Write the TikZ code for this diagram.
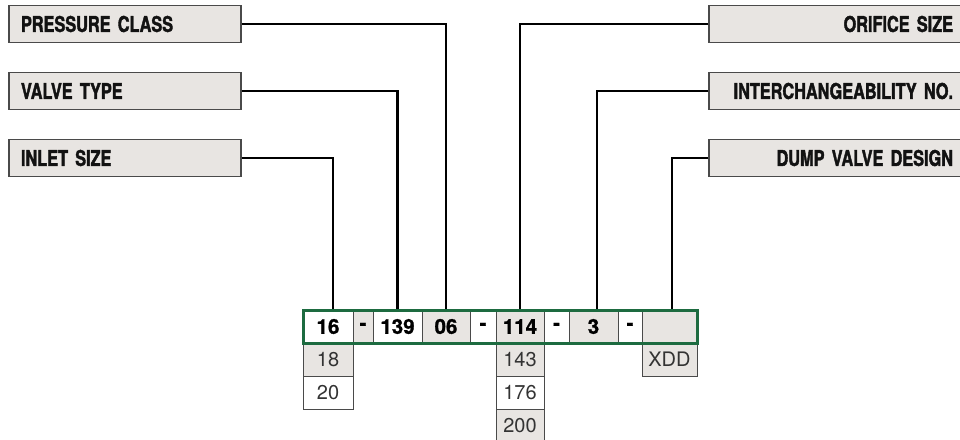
\documentclass[tikz,border=0pt]{standalone}
\usepackage{fontspec}
\setmainfont{TeX Gyre Heros}
\newfontfamily\condfont[FakeStretch=0.75, FakeBold=1.8]{TeX Gyre Heros}
\newfontfamily\heavyfont[FakeBold=1]{TeX Gyre Heros}
\usetikzlibrary{positioning}
\definecolor{cgreen}{HTML}{1D6B40}
\definecolor{cfill}{HTML}{E8E5E2}
\definecolor{cedge}{HTML}{4A4A4A}
\tikzset{
  tag/.style={draw=cedge, fill=cfill, line width=1.5pt, minimum height=37pt, inner ysep=0pt,
    font=\condfont\bfseries\fontsize{21.7}{22}\selectfont, text=black!93},
  lefttag/.style={tag, inner xsep=12pt, text width=208pt, align=left},
  righttag/.style={tag, inner xsep=9pt, text width=235pt, align=right},
  cell/.style={draw=cedge, line width=1pt, outer sep=0pt, inner sep=0pt, minimum height=33pt,
    font=\heavyfont\bfseries\fontsize{20.5}{21}\selectfont, text=black},
  opt/.style={cell, font=\normalfont\fontsize{20}{20}\selectfont, text=black!80},
  wire/.style={draw=black, line width=2.2pt},
}

\begin{document}
\begin{tikzpicture}[x=1pt, y=-1pt]
  \useasboundingbox (0,0) rectangle (960,439);
  % code row
  \node[cell, fill=white, minimum width=50pt] (c16) at (328,326.5) {16};
  \node[cell, fill=cfill, minimum width=20pt, right=0pt of c16] (d1) {-};
  \node[cell, fill=white, minimum width=49pt, right=0pt of d1] (c139) {139};
  \node[cell, fill=cfill, minimum width=48pt, right=0pt of c139] (c06) {06};
  \node[cell, fill=white, minimum width=26pt, right=0pt of c06] (d2) {-};
  \node[cell, fill=cfill, minimum width=48pt, right=0pt of d2] (c114) {114};
  \node[cell, fill=white, minimum width=25pt, right=0pt of c114] (d3) {-};
  \node[cell, fill=cfill, minimum width=49pt, right=0pt of d3] (c3) {3};
  \node[cell, fill=white, minimum width=24pt, right=0pt of c3] (d4) {-};
  \node[cell, fill=cfill, minimum width=55pt, right=0pt of d4] (cx) {};
  % options below the code
  \node[opt, fill=cfill, minimum width=50pt, below=0pt of c16] (o18) {18};
  \node[opt, fill=white, minimum width=50pt, below=0pt of o18] (o20) {20};
  \node[opt, fill=cfill, minimum width=48pt, below=0pt of c114] (o143) {143};
  \node[opt, fill=white, minimum width=48pt, below=0pt of o143] (o176) {176};
  \node[opt, fill=cfill, minimum width=48pt, below=0pt of o176] (o200) {200};
  \node[opt, fill=cfill, minimum width=55pt, below=0pt of cx] (oxdd) {XDD};
  % labels
  \node[lefttag] (pc) at (125,24) {PRESSURE CLASS};
  \node[lefttag] (vt) at (125,91) {VALVE TYPE};
  \node[lefttag] (is) at (125,158) {INLET SIZE};
  \node[righttag] (os) at (835.5,24) {ORIFICE SIZE};
  \node[righttag] (in) at (835.5,91) {INTERCHANGEABILITY NO.};
  \node[righttag] (dv) at (835.5,158) {DUMP VALVE DESIGN};
  % wires
  \draw[wire] (pc.east) -| (c06.north);
  \draw[wire] (vt.east) -| (c139.north);
  \draw[wire] (is.east) -| ([xshift=5pt]c16.north);
  \draw[wire] (os.west) -| (c114.north);
  \draw[wire] (in.west) -| ([xshift=3.5pt]c3.north);
  \draw[wire] (dv.west) -| ([xshift=2.5pt]cx.north);
  % frame round the code
  \draw[cgreen, line width=3pt] (c16.north west) rectangle (cx.south east);
\end{tikzpicture}
\end{document}
